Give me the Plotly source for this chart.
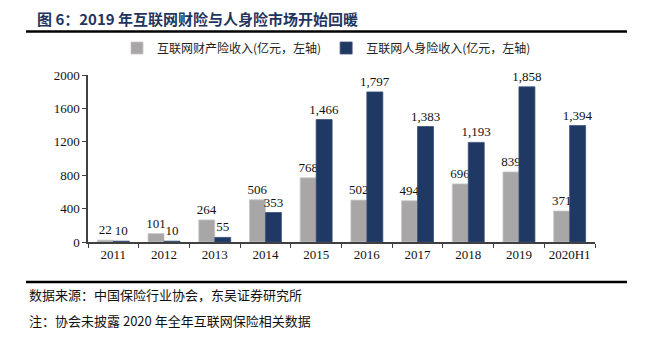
import plotly.graph_objects as go

categories = ["2011", "2012", "2013", "2014", "2015", "2016", "2017", "2018", "2019", "2020H1"]
property_income = [22, 101, 264, 506, 768, 502, 494, 696, 839, 371]
life_income = [10, 10, 55, 353, 1466, 1797, 1383, 1193, 1858, 1394]
series_names = ["互联网财产险收入(亿元，左轴)", "互联网人身险收入(亿元，左轴)"]
y_ticks = [0, 400, 800, 1200, 1600, 2000]

title_text = "图 6：2019 年互联网财险与人身险市场开始回暖"
source_text = "数据来源：中国保险行业协会，东吴证券研究所"
note_text = "注：协会未披露 2020 年全年互联网保险相关数据"

OFF = 8  # page body margin
W, H = 658 - OFF, 357 - OFF
L, R, T, B = 88 - OFF, 595 - OFF, 75 - OFF, 242 - OFF

def px(x):
    return (x - OFF - L) / (R - L)

def py(y):
    return (B - (y - OFF)) / (B - T)

serif = "Liberation Serif, Times New Roman, serif"
cjk = "Noto Sans CJK SC"

fig = go.Figure()
fig.add_trace(go.Bar(
    x=categories, y=property_income, name=series_names[0],
    marker=dict(color="#a8a6a6", line=dict(color="#c8c6c6", width=0.8)),
    texttemplate="%{y:,.0f}", textposition="outside", constraintext="none",
    textfont=dict(family=serif, size=13, color="#111"),
    cliponaxis=False,
))
fig.add_trace(go.Bar(
    x=categories, y=life_income, name=series_names[1],
    marker=dict(color="#1f3864", line=dict(color="#3a4f78", width=0.8)),
    texttemplate="%{y:,.0f}", textposition="outside", constraintext="none",
    textfont=dict(family=serif, size=13, color="#111"),
    cliponaxis=False,
))

fig.update_layout(
    width=W, height=H,
    margin=dict(l=L, r=W - R, t=T, b=H - B, autoexpand=False),
    paper_bgcolor="white", plot_bgcolor="white",
    barmode="group", bargap=0.37, bargroupgap=0.0,
    showlegend=True,
    legend=dict(
        orientation="h", x=px(117), xanchor="left", y=py(48), yanchor="middle",
        font=dict(family=cjk, size=12, color="#222"),
        itemwidth=30, tracegroupgap=0, bgcolor="rgba(0,0,0,0)",
    ),
    xaxis=dict(
        type="category", showgrid=False, showline=True, linecolor="#404040", linewidth=1.5,
        ticks="outside", tickson="boundaries", ticklen=4, tickcolor="#404040",
        tickfont=dict(family=serif, size=13, color="#111"), tickangle=0,
        range=[-0.5, 9.5],
    ),
    yaxis=dict(
        range=[0, 2000], tickvals=y_ticks, showgrid=False, showline=True,
        linecolor="#404040", linewidth=1.5, ticks="outside", ticklen=4, tickcolor="#404040",
        tickfont=dict(family=serif, size=13, color="#111"), zeroline=False,
    ),
    font=dict(family=serif),
)

fig.add_annotation(
    text=f"<b>{title_text}</b>", xref="paper", yref="paper",
    x=px(36), y=py(18), xanchor="left", yanchor="middle", showarrow=False,
    borderpad=0, font=dict(family=cjk, size=15, color="#1f3560"),
)
fig.add_annotation(
    text=source_text, xref="paper", yref="paper",
    x=px(27), y=py(294), xanchor="left", yanchor="middle", showarrow=False,
    font=dict(family=cjk, size=13, color="#111"),
)
fig.add_annotation(
    text=note_text, xref="paper", yref="paper",
    x=px(27), y=py(320), xanchor="left", yanchor="middle", showarrow=False,
    font=dict(family=cjk, size=13, color="#111"),
)

for yline in (31.5, 282):
    fig.add_shape(type="line", xref="paper", yref="paper",
                  x0=px(26), x1=px(627), y0=py(yline), y1=py(yline),
                  line=dict(color="black", width=2.5))

fig.write_html("out.html")
